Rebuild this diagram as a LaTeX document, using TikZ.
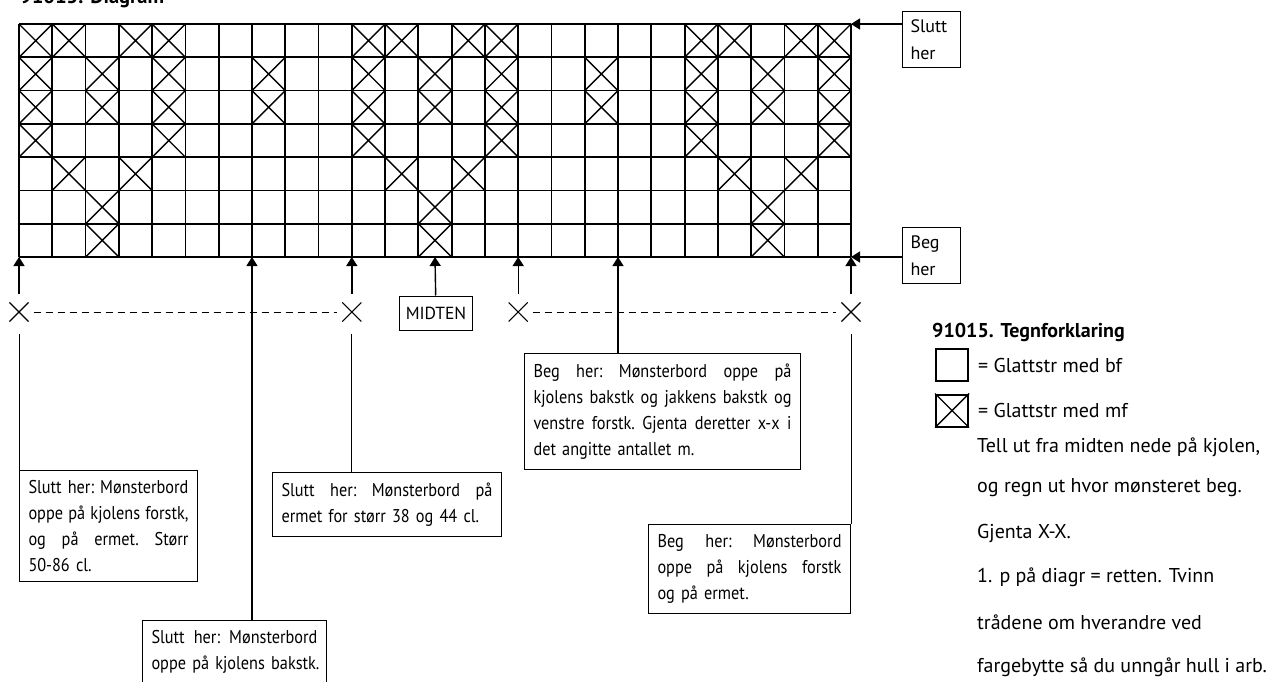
\documentclass[tikz,border=0pt]{standalone}
\usepackage{fontspec}
\setmainfont{PT Sans}
\newfontfamily\narrowfont[FakeStretch=0.88]{PT Sans}
\usetikzlibrary{positioning}
\usetikzlibrary{shapes.misc}
\usetikzlibrary{arrows.meta}

\newcommand{\notefont}{\narrowfont\fontsize{18.5}{26}\selectfont\frenchspacing}
\newcommand{\legendfont}{\fontsize{20}{24}\selectfont}
\newcommand{\fullline}[1]{\hbox to\hsize{\spaceskip=.24em plus 1fil minus .06em\relax #1}\par}
\newcommand{\lastline}[1]{\hbox{#1}\par}
\tikzstyle{gridline}=[line width=1.8pt]
\tikzstyle{note}=[draw, line width=1pt, inner xsep=9pt, inner ysep=10pt, font=\notefont]
\tikzstyle{tag}=[draw, line width=1pt, align=left, text width=42pt, inner xsep=8pt, inner ysep=8pt, font=\fontsize{18}{27}\selectfont]
\tikzstyle{xmark}=[draw, cross out, line width=1.1pt, minimum size=18pt, inner sep=0pt]
\tikzstyle{pointer}=[line width=1.4pt, -{Triangle[width=11pt, length=9pt]}]
\tikzstyle{dashline}=[line width=1pt, dash pattern=on 7pt off 5pt]
\tikzstyle{key}=[draw, line width=2pt, minimum size=32pt, inner sep=0pt]
\tikzstyle{legendtext}=[inner sep=0pt, anchor=west, font=\legendfont]

\begin{document}
\begin{tikzpicture}[x=1pt, y=-1pt]
\useasboundingbox (0,0) rectangle (1270,682);

\node[font=\bfseries\fontsize{20.5}{24}\selectfont, anchor=base west, inner sep=0pt] (title) at (20,4) {91015. Diagram};

% chart
\foreach \i in {0,...,25}
  \draw[gridline] (19+\i*33.28,24) -- (19+\i*33.28,257);
\foreach \j in {0,...,7}
  \draw[gridline] (19,24+\j*33.29) -- (851,24+\j*33.29);
\foreach \r/\cols in {1/{1,2,4,5,11,12,14,15,21,22,24,25}, 2/{1,3,5,8,11,13,15,18,21,23,25}, 3/{1,3,5,8,11,13,15,18,21,23,25}, 4/{1,5,11,15,21,25}, 5/{2,4,12,14,22,24}, 6/{3,13,23}, 7/{3,13,23}}
  \foreach \c in \cols
    \draw[line width=1.4pt] (19+\c*33.28-33.28,24+\r*33.29-33.29) -- (19+\c*33.28,24+\r*33.29)
      (19+\c*33.28-33.28,24+\r*33.29) -- (19+\c*33.28,24+\r*33.29-33.29);

\coordinate (g0) at (19,257);
\coordinate (g7) at (251.96,257);
\coordinate (g10) at (351.8,257);
\coordinate (gm) at (435,257);
\coordinate (g15) at (518.2,257);
\coordinate (g18) at (618,257);
\coordinate (g25) at (851,257);
\coordinate (top25) at (851,24);

% repeat marks
\node[xmark] (x1) at (19,312) {};
\node[xmark] (x2) at (351.8,312) {};
\node[xmark] (x3) at (518.2,312) {};
\node[xmark] (x4) at (851,312) {};
\draw[dashline, shorten <=5pt, shorten >=5pt] (x1) -- (x2);
\draw[dashline, shorten <=5pt, shorten >=5pt] (x3) -- (x4);

\node[draw, line width=1pt, font=\fontsize{17.5}{26}\selectfont, minimum height=34pt, inner xsep=6pt] (midten) at (436,313) {MIDTEN};

% notes
\node[note, text width=160pt, anchor=north west] (notea) at (19,470) {\fullline{Slutt her: Mønsterbord}\fullline{oppe på kjolens forstk,}\fullline{og på ermet. Størr}\lastline{50-86 cl.}};
\node[note, text width=211pt, anchor=north west] (noteb) at (272,472) {\fullline{Slutt her: Mønsterbord på}\lastline{ermet for størr 38 og 44 cl.}};
\node[note, text width=166pt, anchor=north west] (notec) at (142,620) {\fullline{Slutt her: Mønsterbord}\lastline{oppe på kjolens bakstk.}};
\node[note, text width=258pt, anchor=north west] (noted) at (524,353) {\fullline{Beg her: Mønsterbord oppe på}\fullline{kjolens bakstk og jakkens bakstk og}\fullline{venstre forstk. Gjenta deretter x-x i}\lastline{det angitte antallet m.}};
\node[note, text width=184pt, anchor=north east] (notee) at (851,524) {\fullline{Beg her: Mønsterbord}\fullline{oppe på kjolens forstk}\lastline{og på ermet.}};

\draw[pointer, shorten <=8pt] (x1) -- (g0);
\draw[pointer, shorten <=8pt] (x2) -- (g10);
\draw[pointer, shorten <=8pt] (x3) -- (g15);
\draw[pointer, shorten <=8pt] (x4) -- (g25);
\draw[pointer] (midten) -- (gm);
\draw[pointer] (g7 |- notec.north) -- (g7);
\draw[pointer] (g18 |- noted.north) -- (g18);
\draw[line width=1pt, shorten <=12pt] (x1) -- (x1 |- notea.north);
\draw[line width=1pt, shorten <=12pt] (x2) -- (x2 |- noteb.north);
\draw[line width=1pt, shorten <=12pt] (x4) -- (x4 |- notee.north);

\node[tag, anchor=north west] (slutt) at (902,11) {Slutt\\her};
\node[tag, anchor=north west] (beg) at (902,227) {Beg\\her};
\draw[pointer] (slutt.west |- top25) -- (top25);
\draw[pointer] (beg.west |- g25) -- (g25);

% legend
\node[font=\bfseries\fontsize{20}{24}\selectfont, anchor=west, inner sep=0pt] (legendtitle) at (932,332) {91015. Tegnforklaring};
\node[key] (keybf) at (952,365) {};
\node[key, below=11.5pt of keybf] (keymf) {};
\draw[line width=1.4pt] (keymf.north west) -- (keymf.south east) (keymf.south west) -- (keymf.north east);
\node[legendtext, right=9pt of keybf] (txtbf) {= Glattstr med bf};
\node[legendtext, right=9pt of keymf] (txtmf) {= Glattstr med mf};
\node[legendtext] (hint1) at (977,447) {Tell ut fra midten nede på kjolen,};
\node[legendtext] (hint2) at (977,488) {og regn ut hvor mønsteret beg.};
\node[legendtext] (hint3) at (977,533) {Gjenta X-X.};
\node[legendtext] (hint4) at (977,577) {1. p på diagr = retten. Tvinn};
\node[legendtext] (hint5) at (977,622) {trådene om hverandre ved};
\node[legendtext] (hint6) at (977,667) {fargebytte så du unngår hull i arb.};
\end{tikzpicture}
\end{document}
